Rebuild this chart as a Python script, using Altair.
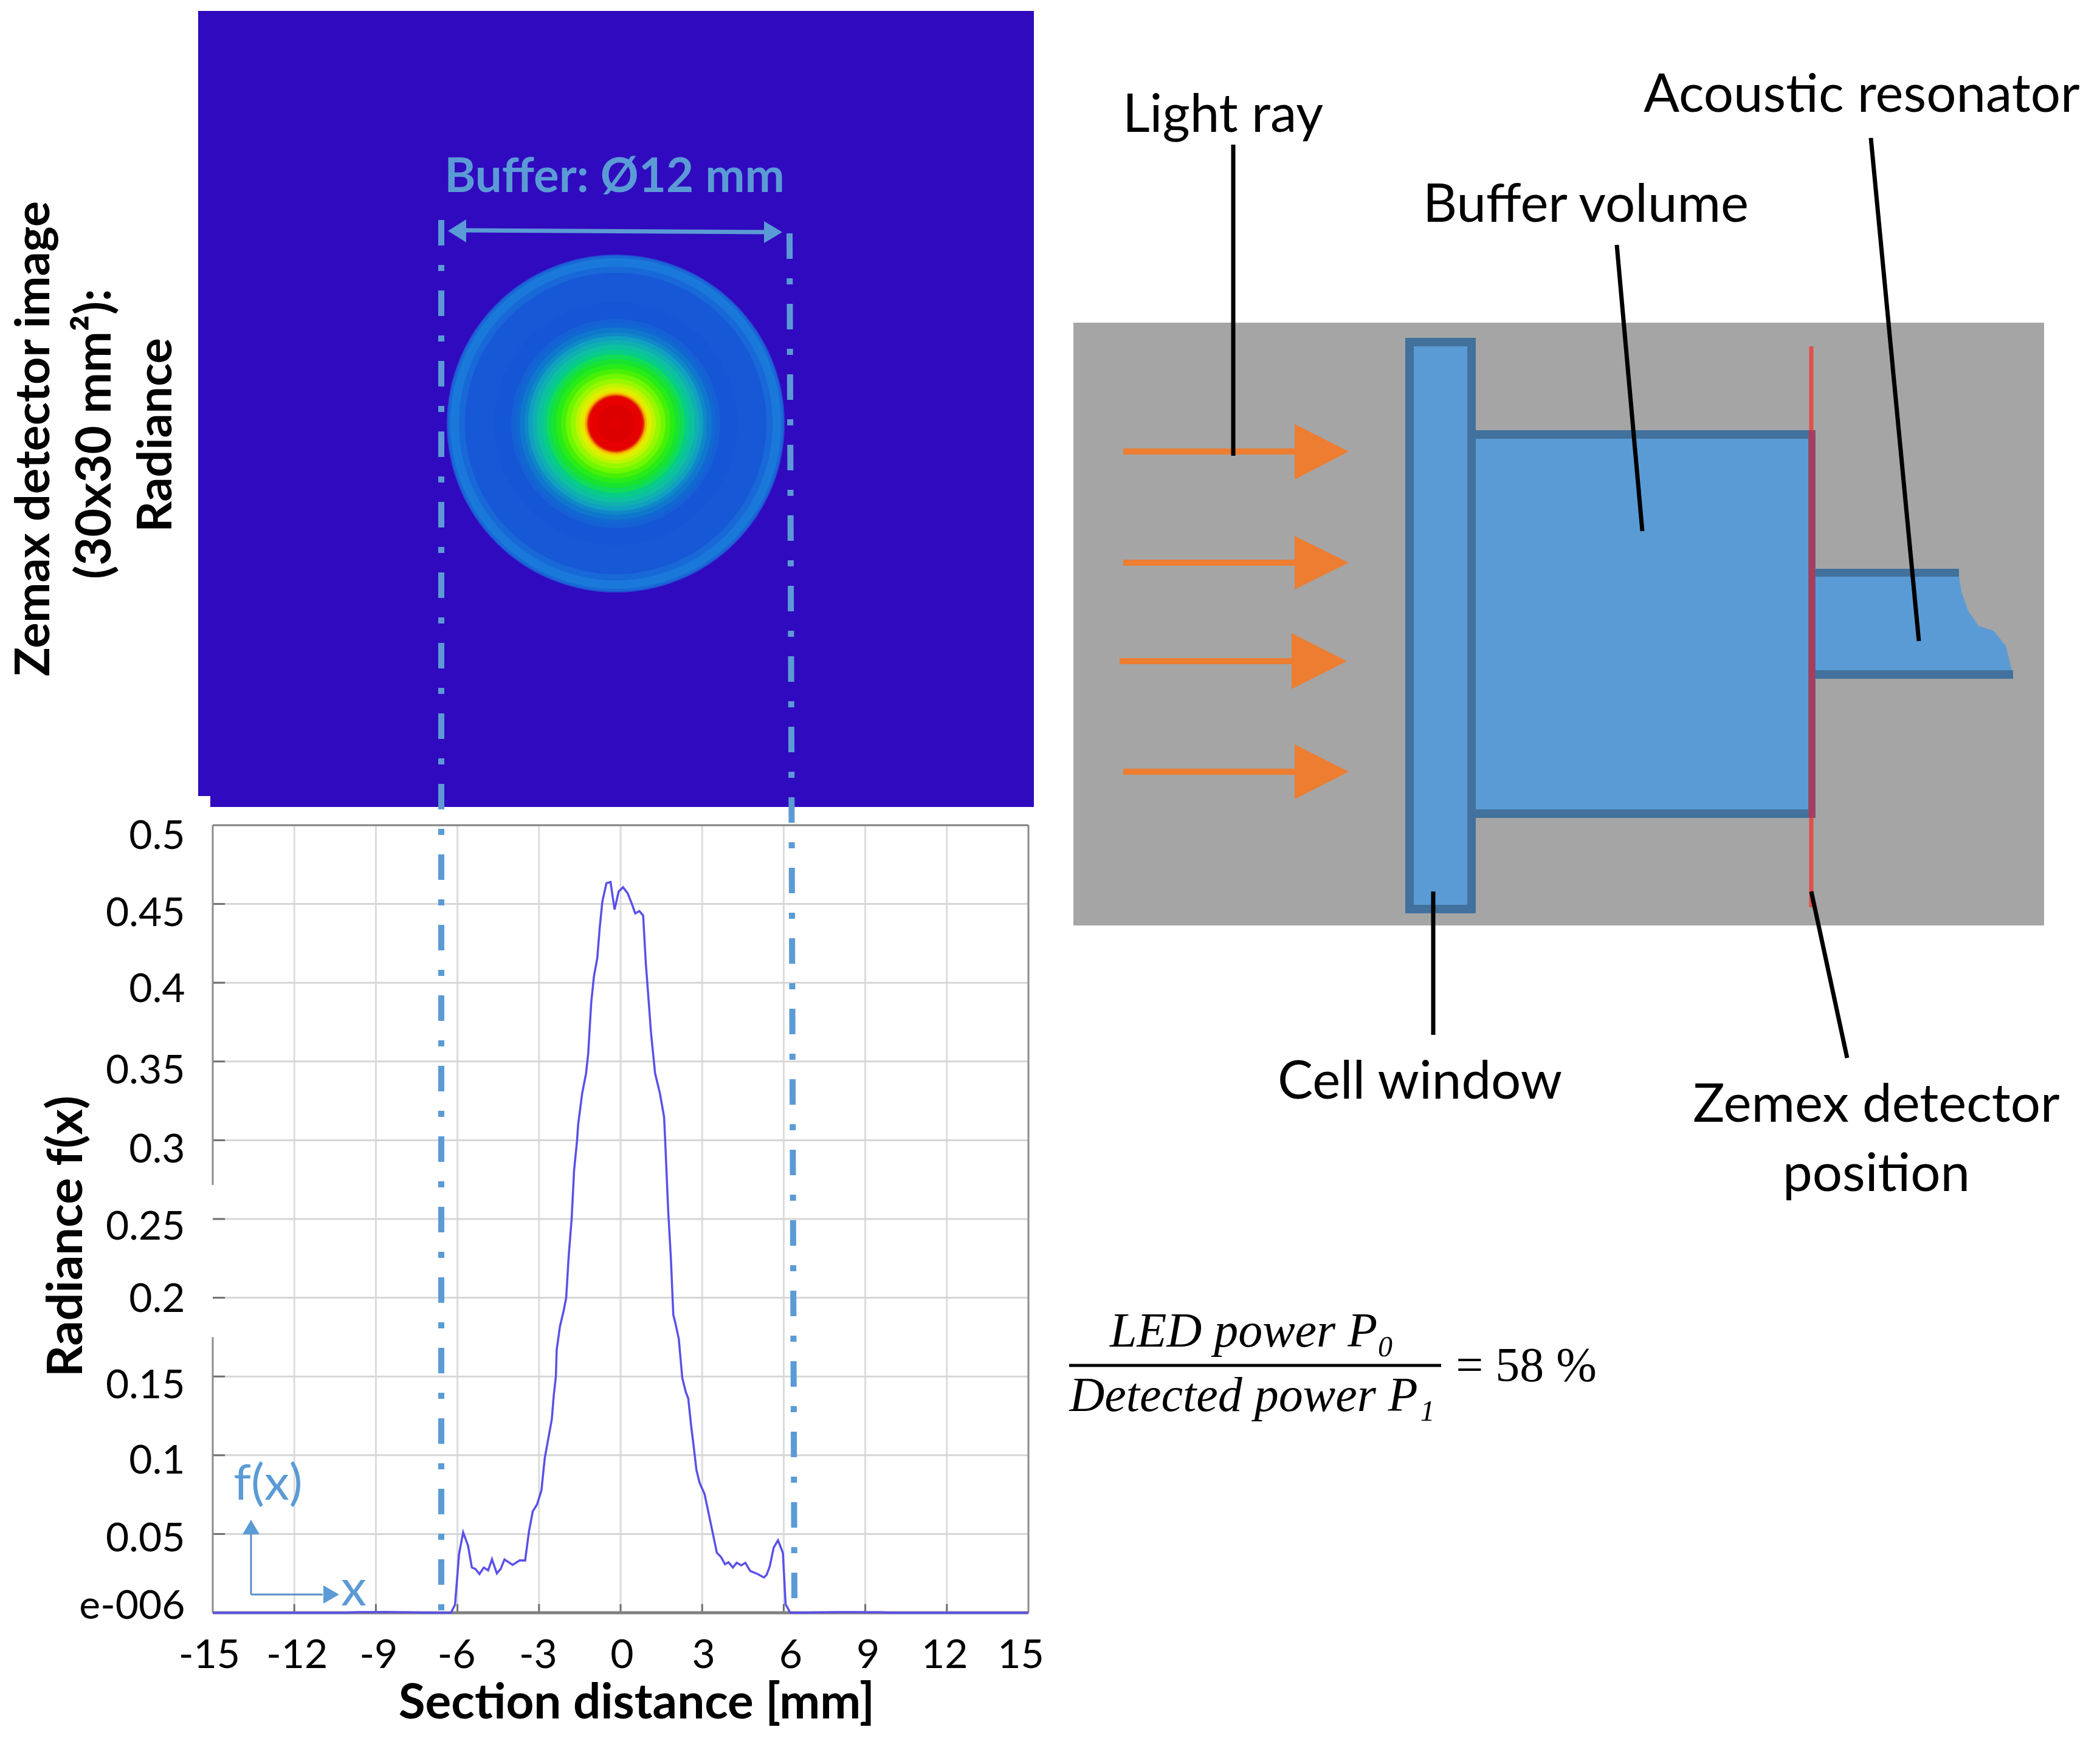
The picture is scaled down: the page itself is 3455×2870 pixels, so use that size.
import altair as alt
import pandas as pd

# ---------- radiance section curve (mm, radiance) ----------
section_mm = [-15,-12,-10.2,-9.6,-8.6,-7,-6.4,-6.24,-6.09,-5.94,-5.79,-5.61,-5.47,-5.34,-5.19,-5.03,-4.87,-4.73,-4.55,-4.41,-4.27,-3.97,-3.71,-3.51,-3.37,-3.23,-3.07,-2.91,-2.79,-2.53,-2.46,-2.38,-2.35,-2.23,-2.09,-2.0,-1.91,-1.80,-1.71,-1.60,-1.56,-1.415,-1.27,-1.19,-1.08,-0.98,-0.857,-0.767,-0.67,-0.52,-0.37,-0.22,-0.07,0.09,0.26,0.41,0.54,0.69,0.83,0.93,1.01,1.12,1.27,1.45,1.60,1.64,1.75,1.85,1.94,2.0,2.14,2.27,2.4,2.49,2.59,2.69,2.79,2.91,3.09,3.27,3.41,3.54,3.69,3.84,3.97,4.13,4.27,4.44,4.59,4.77,5.04,5.27,5.37,5.49,5.63,5.79,5.97,6.07,6.24,6.5,8,8.6,9.5,10,12,15]
radiance = [0,0,0,0.0004,0.0005,0,0,0,0.005,0.0374,0.051,0.0426,0.0287,0.0278,0.0246,0.0287,0.0269,0.034,0.025,0.0278,0.0338,0.0304,0.0333,0.0332,0.0515,0.0644,0.0688,0.0778,0.098,0.1228,0.1375,0.15,0.167,0.1818,0.192,0.2,0.226,0.25,0.2807,0.30,0.31,0.3295,0.3424,0.3552,0.3873,0.404,0.4156,0.435,0.4516,0.4632,0.4639,0.4465,0.458,0.4606,0.4568,0.4503,0.444,0.4455,0.4427,0.4118,0.3938,0.368,0.3424,0.3295,0.3147,0.30,0.2557,0.225,0.189,0.185,0.174,0.149,0.14,0.136,0.1195,0.1054,0.0906,0.0823,0.0753,0.0605,0.049,0.0381,0.0355,0.0308,0.032,0.0287,0.0317,0.0301,0.0317,0.0265,0.0246,0.0224,0.024,0.0297,0.0413,0.046,0.038,0.0054,0,0,0.0004,0.0004,0.0003,0,0,0]
x_ticks = [-15,-12,-9,-6,-3,0,3,6,9,12,15]
y_ticks = [0,0.05,0.1,0.15,0.2,0.25,0.3,0.35,0.4,0.45,0.5]
# the reference's tick labels sit a little off their ticks
x_label_shift = [-6,4,4,-2,-2,2,2,11,4,-4,-13]
y_label_shift = [-11,8,10,15,3,13,16,16,11,16,18]

# ---------- detector image rings ----------
ring_radius = [278,276,272,266,258,248,200,172,165,158,150,144,137,130,122,114,106,98,90,82,74,66,60,54,51,48,46,44,30,10]
ring_color  = ['#2050d0','#1a68d8','#1a7ada','#1a78da','#1868d8','#1658d6','#1556d6','#1560d4','#1268d2','#1078cc','#1088c8','#10a0c0','#10b0b0','#0cc0a0','#08cc88','#10dc58','#18e430','#28ec18','#48f008','#70f800','#98f800','#c0f400','#dcf000','#f0e000','#f4b000','#e86000','#e02000','#e60000','#dc0000','#e00000']

# ---------- schematic geometry (reference picture units) ----------
rects = [
    (326,1701,18,1328,'#300abf'),(326,346,1310,1332,'#ffffff'),
]
boxes = [
    (1766,3363,531,1523,'#a5a5a5'),
    (2312,2428,556,1503,'#41719c'),(2326,2414,570,1489,'#5b9bd5'),
    (2428,2987,708,1346,'#41719c'),(2428,2987,722,1332,'#5b9bd5'),
    (2975,2987,708,1346,'#41719c'),
    (2987,3223,936,949,'#41719c'),(2987,3312,1103,1117,'#41719c'),
]
res_x  = [2987,3223,3227,3238,3255,3280,3300,3310]
res_y  = [949,949,973,1005,1030,1038,1063,1103]
res_y2 = [1103]*8
red_line = [(2980,570,2980,1493,'#e0504c',7),(2981,708,2981,1346,'#ae3a58',10)]
orange_shaft = [(1848,743,2135,743),(1848,926,2135,926),(1842,1088,2130,1088),(1848,1270,2135,1270)]
orange_head = [(2130,698,789,2219,743),(2130,882,970,2219,926),(2125,1042,1134,2216,1088),(2130,1225,1315,2219,1270)]
black_lines = [(2029,238,2029,750),(2660,403,2702,874),(3078,227,3157,1055),(2358,1467,2358,1703),(2980,1467,3039,1741)]
dash_lines = [(726,362,726,2654),(1299,384,1307,2636)]
dbl_shaft = [(760,379,1265,382)]
axes_arrow = [(413,2524,413,2624),(413,2624,531,2624)]

texts = [
    # text, x, y, size, angle, colour, weight
    ('Zemax detector image',57,722,79,270,'#000000','bold'),
    ('(30x30 mm²):',158,714,81,270,'#000000','bold'),
    ('Radiance',258,716,79,270,'#000000','bold'),
    ('Buffer: Ø12 mm',1011,293,78,0,'#5b9bd5','bold'),
    ('Light ray',2012,191,87,0,'#000000','normal'),
    ('Acoustic resonator',3063,158,87,0,'#000000','normal'),
    ('Buffer volume',2609,339,87,0,'#000000','normal'),
    ('Cell window',2336,1782,87,0,'#000000','normal'),
    ('Zemex detector',3087,1820,87,0,'#000000','normal'),
    ('position',3087,1934,87,0,'#000000','normal'),
    ('f(x)',441,2443,82,0,'#5b9bd5','normal'),
    ('x',582,2617,84,0,'#5b9bd5','normal'),
]
eq_texts = [
    ('LED power P₀',2060,2192,'italic'),
    ('Detected power P₁',2060,2298,'italic'),
    ('= 58 %',2511,2249,'normal'),
]

# ---------- scales ----------
W, H = 3439, 2854
IX = alt.Scale(domain=[8,8+W], range=[0,W])
IY = alt.Scale(domain=[8,8+H], range=[0,H])
x0, x1 = 350-8, 1692-8
y0, y1 = 2654-8, 1358-8
SX = alt.Scale(domain=[-15,15], range=[x0,x1], nice=False, zero=False)
SY = alt.Scale(domain=[0,0.5], range=[y0,y1], nice=False, zero=False)
F = 'Lato'

def ix(f): return alt.X(f, type='quantitative', scale=IX, axis=None)
def iy(f): return alt.Y(f, type='quantitative', scale=IY, axis=None)

def rect_layer(rows):
    d = pd.DataFrame(rows, columns=['x','x2','y','y2','c'])
    return alt.Chart(d).mark_rect(strokeWidth=0).encode(
        x=ix('x'), x2='x2', y=iy('y'), y2='y2', color=alt.Color('c:N', scale=None), order=alt.Order('i:Q')
    ).transform_window(i='row_number()')

def seg_layer(rows, color, width, **kw):
    d = pd.DataFrame(rows, columns=['x','y','x2','y2'])
    return alt.Chart(d).mark_rule(color=color, strokeWidth=width, **kw).encode(
        x=ix('x'), y=iy('y'), x2='x2', y2='y2')

def heads_layer(rows, color):
    recs = []
    for i, r in enumerate(rows):
        b, t, bt, tip, c = r
        recs += [dict(a=i, x=b, y=t, y2=bt), dict(a=i, x=tip, y=c, y2=c)]
    return alt.Chart(pd.DataFrame(recs)).mark_area(color=color, orient='vertical').encode(
        x=ix('x'), y=iy('y'), y2='y2', detail='a:N')

def shift_cond(ticks, shifts):
    return {'condition': [{'test': f'datum.value=={t}', 'value': s} for t, s in zip(ticks, shifts)], 'value': 0}

# ---------- bottom schematic layers ----------
rings = pd.DataFrame({'x':[1013]*len(ring_radius), 'y':[697]*len(ring_radius),
                      's':[(2*r)**2 for r in ring_radius], 'c':ring_color})
bottom = [
    rect_layer(rects),
    alt.Chart(rings).mark_point(filled=True, opacity=1, strokeWidth=0).encode(
        x=ix('x'), y=iy('y'), size=alt.Size('s:Q', scale=None), color=alt.Color('c:N', scale=None)),
    rect_layer(boxes),
    alt.Chart(pd.DataFrame({'x':res_x,'y':res_y,'y2':res_y2})).mark_area(color='#5b9bd5').encode(
        x=ix('x'), y=iy('y'), y2='y2'),
]
for (a,b,c,d,col,w) in red_line:
    bottom.append(seg_layer([(a,b,c,d)], col, w))
bottom += [
    seg_layer(orange_shaft, '#ed7d31', 10),
    heads_layer(orange_head, '#ed7d31'),
    seg_layer(black_lines, '#000000', 7),
]

# ---------- radiance plot ----------
curve = pd.DataFrame({'x':section_mm, 'y':radiance})
gx = pd.DataFrame({'x':x_ticks[1:-1], 'y':[0]*9, 'y2':[0.5]*9})
gy = pd.DataFrame({'y':y_ticks[1:-1], 'x':[-15]*9, 'x2':[15]*9})
tx = pd.DataFrame({'x':x_ticks[1:-1], 'y':[0]*9, 'y2':[0.0055]*9})
ty = pd.DataFrame({'y':y_ticks[1:-1], 'x':[-15]*9, 'x2':[-14.55]*9})
pxq = lambda: alt.X('x:Q', scale=SX, axis=None)
pyq = lambda: alt.Y('y:Q', scale=SY, axis=None)

axes = alt.Chart(pd.DataFrame({'x':x_ticks, 'y':y_ticks})).mark_point(opacity=0).encode(
    x=alt.X('x:Q', scale=SX, axis=alt.Axis(
        values=x_ticks, orient='bottom', offset=-(H-y0), grid=False, ticks=False, domain=False,
        labelFont=F, labelFontSize=66, labelPadding=38, labelColor='#000000', labelAngle=0,
        labelOffset=shift_cond(x_ticks, x_label_shift),
        labelExpr="''+datum.value", labelOverlap=False, labelFlush=False, labelBound=False,
        title='Section distance [mm]', titleFont=F, titleFontSize=80, titleFontWeight='bold',
        titleColor='#000000', titleX=1039, titleY=149, titleAlign='center', titleBaseline='middle')),
    y=alt.Y('y:Q', scale=SY, axis=alt.Axis(
        values=y_ticks, orient='left', offset=-x0, grid=False, ticks=False, domain=False,
        labelFont=F, labelFontSize=66, labelPadding=46, labelColor='#000000',
        labelOffset=shift_cond(y_ticks, y_label_shift),
        labelExpr="datum.value==0?'e-006':''+datum.value", labelOverlap=False, labelFlush=False, labelBound=False,
        title='Radiance f(x)', titleFont=F, titleFontSize=81, titleFontWeight='bold',
        titleColor='#000000', titleX=-240, titleY=2026, titleAlign='center', titleBaseline='middle')),
)
box_y = pd.DataFrame({'x':[-15,-15,15], 'y':[0.5,0.175,0], 'y2':[0.2716,0,0.5]})
box_x = pd.DataFrame({'y':[0.5,0], 'x':[-15,-15], 'x2':[15,15], 'w':[3,5]})
plot = alt.layer(
    alt.Chart(gx).mark_rule(color='#dcdcdc', strokeWidth=3).encode(x=pxq(), y=pyq(), y2='y2'),
    alt.Chart(gy).mark_rule(color='#d6d6d6', strokeWidth=3).encode(y=pyq(), x=pxq(), x2='x2'),
    alt.Chart(tx).mark_rule(color='#707070', strokeWidth=3).encode(x=pxq(), y=pyq(), y2='y2'),
    alt.Chart(ty).mark_rule(color='#707070', strokeWidth=3).encode(y=pyq(), x=pxq(), x2='x2'),
    alt.Chart(box_y).mark_rule(color='#8c8c8c', strokeWidth=3).encode(x=pxq(), y=pyq(), y2='y2'),
    alt.Chart(box_x).mark_rule(color='#808080').encode(y=pyq(), x=pxq(), x2='x2',
        strokeWidth=alt.StrokeWidth('w:Q', scale=None)),
    alt.Chart(curve).mark_line(color='#5a50e8', strokeWidth=3.5, interpolate='linear').encode(
        x=pxq(), y=pyq(), order='x:Q'),
)

# ---------- top schematic layers ----------
def text_layer(rows):
    d = pd.DataFrame(rows, columns=['t','x','y','s','a','c','w'])
    out = []
    for (a, w), g in d.groupby(['a','w']):
        out.append(alt.Chart(g).mark_text(font=F, align='center', baseline='middle', angle=int(a), fontWeight=w).encode(
            x=ix('x'), y=iy('y'), text='t:N', size=alt.Size('s:Q', scale=None), color=alt.Color('c:N', scale=None)))
    return out

eq = pd.DataFrame(eq_texts, columns=['t','x','y','st'])
top = [
    seg_layer(dash_lines, '#5b9bd5', 10, strokeDash=[42,32,10,32]),
    seg_layer(dbl_shaft, '#5b9bd5', 7),
    heads_layer([(1257,364,400,1287,382)], '#5b9bd5'),
    heads_layer([(767,361,399,737,380)], '#5b9bd5'),
    seg_layer(axes_arrow, '#5b8fc9', 3),
    alt.Chart(pd.DataFrame({'x':[413],'y':[2513]})).mark_point(shape='triangle-up', filled=True, size=784, color='#5b9bd5', opacity=1).encode(x=ix('x'), y=iy('y')),
    alt.Chart(pd.DataFrame({'x':[545],'y':[2624]})).mark_point(shape='triangle-right', filled=True, size=900, color='#5b9bd5', opacity=1).encode(x=ix('x'), y=iy('y')),
    seg_layer([(1759,2247,2371,2247)], '#000000', 5),
    alt.Chart(eq[eq.st=='italic']).mark_text(font='Liberation Serif', fontStyle='italic', fontSize=80, align='center', baseline='middle', color='#000000').encode(
        x=ix('x'), y=iy('y'), text='t:N'),
    alt.Chart(eq[eq.st=='normal']).mark_text(font='Liberation Serif', fontSize=80, align='center', baseline='middle', color='#000000').encode(
        x=ix('x'), y=iy('y'), text='t:N'),
] + text_layer(texts)

chart = alt.layer(
    alt.layer(*bottom), plot, axes, alt.layer(*top)
).resolve_scale(x='independent', y='independent').properties(
    width=W, height=H, padding=0, autosize=alt.AutoSizeParams(type='none'),
    background='#ffffff'
).configure_view(strokeWidth=0)

chart.save("out.html", embed_options={"renderer": "svg", "actions": False})
